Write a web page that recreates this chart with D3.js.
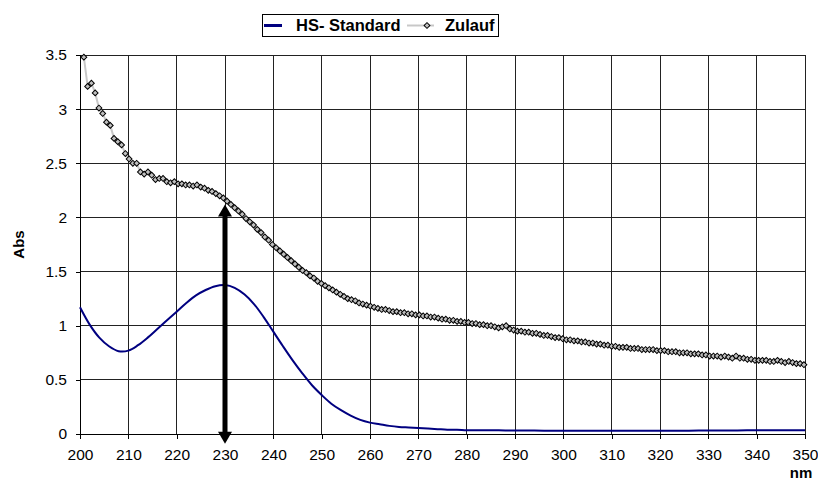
<!DOCTYPE html>
<html>
<head>
<meta charset="utf-8">
<title>HS- Standard / Zulauf</title>
<script src="https://d3js.org/d3.v7.min.js"></script>
<style>
  body { margin: 0; background: #fff; }
  text { font-family: Arial, "Liberation Sans", sans-serif; fill: #000; }
</style>
</head>
<body>
<svg id="chart" width="818" height="482"></svg>
<script>
// x ticks (nm) and y ticks (Abs)
const xTicks = [200, 210, 220, 230, 240, 250, 260, 270, 280, 290, 300, 310, 320, 330, 340, 350];
const yTicks = [0, 0.5, 1, 1.5, 2, 2.5, 3, 3.5];

// HS- Standard, one value every 2 nm from 200 to 350
const hsNm = d3.range(200, 351, 2);
const hsAbs = [
  1.17, 1.01, 0.89, 0.81, 0.765, 0.77, 0.82, 0.89, 0.97, 1.05,
  1.13, 1.21, 1.28, 1.33, 1.365, 1.375, 1.35, 1.29, 1.20, 1.08,
  0.945, 0.81, 0.68, 0.56, 0.45, 0.36, 0.28, 0.22, 0.17, 0.13,
  0.105, 0.09, 0.075, 0.065, 0.06, 0.055, 0.05, 0.045, 0.04, 0.04,
  0.035, 0.035, 0.035, 0.034, 0.033, 0.033, 0.032, 0.032, 0.031, 0.031,
  0.03, 0.03, 0.03, 0.03, 0.03, 0.03, 0.03, 0.03, 0.03, 0.03,
  0.03, 0.03, 0.031, 0.031, 0.032, 0.032, 0.033, 0.033, 0.033, 0.034,
  0.034, 0.034, 0.035, 0.035, 0.035, 0.035
];

// Zulauf, sampled every 0.78 nm starting at 200.8 nm
const zulaufStart = 200.8;
const zulaufStep = 0.78;
const zulaufAbs = [
  3.48, 3.21, 3.24, 3.15, 3.01, 2.96, 2.88, 2.85, 2.73, 2.70,
  2.67, 2.59, 2.54, 2.50, 2.50, 2.42, 2.40, 2.42, 2.39, 2.35,
  2.36, 2.36, 2.33, 2.32, 2.33, 2.31, 2.31, 2.30, 2.30, 2.29,
  2.30, 2.28, 2.27, 2.25, 2.24, 2.22, 2.20, 2.18, 2.15, 2.12,
  2.09, 2.06, 2.03, 1.99, 1.96, 1.93, 1.89, 1.86, 1.82, 1.79,
  1.75, 1.72, 1.69, 1.66, 1.63, 1.60, 1.57, 1.54, 1.51, 1.49,
  1.46, 1.44, 1.41, 1.39, 1.37, 1.35, 1.33, 1.31, 1.29, 1.27,
  1.25, 1.24, 1.23, 1.21, 1.20, 1.19, 1.18, 1.17, 1.16, 1.15,
  1.15, 1.14, 1.13, 1.13, 1.12, 1.12, 1.11, 1.11, 1.10, 1.10,
  1.09, 1.09, 1.08, 1.08, 1.07, 1.06, 1.06, 1.05, 1.05, 1.04,
  1.04, 1.03, 1.03, 1.02, 1.02, 1.01, 1.01, 1.00, 1.00, 0.99,
  0.98, 0.99, 1.00, 0.97, 0.96, 0.95, 0.95, 0.94, 0.94, 0.93,
  0.93, 0.92, 0.91, 0.91, 0.90, 0.89, 0.89, 0.88, 0.87, 0.87,
  0.86, 0.86, 0.85, 0.85, 0.84, 0.84, 0.83, 0.83, 0.82, 0.82,
  0.81, 0.81, 0.80, 0.80, 0.80, 0.79, 0.79, 0.79, 0.78, 0.78,
  0.78, 0.78, 0.77, 0.77, 0.77, 0.76, 0.76, 0.76, 0.75, 0.75,
  0.75, 0.74, 0.74, 0.74, 0.73, 0.73, 0.72, 0.72, 0.72, 0.71,
  0.72, 0.71, 0.70, 0.72, 0.70, 0.70, 0.69, 0.69, 0.68, 0.68,
  0.68, 0.68, 0.67, 0.67, 0.68, 0.67, 0.66, 0.67, 0.66, 0.65,
  0.65, 0.64
];

// double arrow at 230 nm
const arrowNm = 230;
const arrowTop = 2.12;
const arrowBottom = -0.09;

const legendLabels = ["HS- Standard", "Zulauf"];

const W = 818, H = 482;
const margin = { top: 55, right: 13, bottom: 48, left: 80 };

const svg = d3.select("#chart");

const x = d3.scaleLinear().domain([200, 350]).range([margin.left, W - margin.right]);
const y = d3.scaleLinear().domain([0, 3.5]).range([H - margin.bottom, margin.top]);

// grid
const grid = svg.append("g").attr("shape-rendering", "crispEdges");
grid.selectAll(".v").data(xTicks).join("line")
  .attr("x1", d => x(d)).attr("x2", d => x(d))
  .attr("y1", y(0)).attr("y2", y(3.5))
  .attr("stroke", "#222").attr("stroke-width", 1);
grid.selectAll(".h").data(yTicks).join("line")
  .attr("x1", x(200)).attr("x2", x(350))
  .attr("y1", d => y(d)).attr("y2", d => y(d))
  .attr("stroke", "#222").attr("stroke-width", 1);

// axes
const xAxis = svg.append("g")
  .attr("transform", `translate(0,${y(0)})`)
  .call(d3.axisBottom(x).tickValues(xTicks).tickSize(5).tickPadding(10).tickFormat(d3.format("d")));
const yAxis = svg.append("g")
  .attr("transform", `translate(${x(200)},0)`)
  .call(d3.axisLeft(y).tickValues(yTicks).tickSize(4).tickPadding(9).tickFormat(d => String(d)));

[xAxis, yAxis].forEach(a => {
  a.select(".domain").attr("stroke", "#000").attr("shape-rendering", "crispEdges");
  a.selectAll(".tick line").attr("stroke", "#000").attr("shape-rendering", "crispEdges");
  a.selectAll("text").attr("font-size", 15.5).attr("font-family", "Arial, 'Liberation Sans', sans-serif");
});

// axis titles
svg.append("text")
  .attr("transform", `translate(24,${(y(0) + y(3.5)) / 2}) rotate(-90)`)
  .attr("text-anchor", "middle")
  .attr("font-size", 15).attr("font-weight", "bold")
  .text("Abs");
svg.append("text")
  .attr("x", 801).attr("y", 478)
  .attr("text-anchor", "middle")
  .attr("font-size", 15).attr("font-weight", "bold")
  .text("nm");

// clip to plot area
svg.append("clipPath").attr("id", "plot")
  .append("rect")
  .attr("x", x(200)).attr("y", y(3.5) - 4)
  .attr("width", x(350) - x(200) + 4).attr("height", y(0) - y(3.5) + 4);

// Zulauf series
const zulauf = zulaufAbs.map((v, i) => ({ nm: zulaufStart + i * zulaufStep, v }));
const zg = svg.append("g").attr("clip-path", "url(#plot)");
zg.append("path")
  .datum(zulauf)
  .attr("fill", "none")
  .attr("stroke", "#c8c8c8")
  .attr("stroke-width", 2)
  .attr("d", d3.line().x(d => x(d.nm)).y(d => y(d.v)));

const diamond = d3.symbol().type(d3.symbolSquare).size(17);
zg.selectAll(".mk").data(zulauf).join("path")
  .attr("d", diamond)
  .attr("transform", d => `translate(${x(d.nm)},${y(d.v)}) rotate(45)`)
  .attr("fill", "#c0c0c0")
  .attr("stroke", "#000")
  .attr("stroke-width", 1);

// HS- Standard series
const hs = hsNm.map((nm, i) => ({ nm, v: hsAbs[i] }));
svg.append("path")
  .datum(hs)
  .attr("fill", "none")
  .attr("stroke", "#000080")
  .attr("stroke-width", 2)
  .attr("d", d3.line().curve(d3.curveCatmullRom).x(d => x(d.nm)).y(d => y(d.v)));

// arrow
const ax = x(arrowNm), aTop = y(arrowTop), aBot = y(arrowBottom);
const headL = 12, headW = 7;
svg.append("line")
  .attr("x1", ax).attr("x2", ax)
  .attr("y1", aTop + headL - 1).attr("y2", aBot - headL + 1)
  .attr("stroke", "#000").attr("stroke-width", 5);
svg.append("path")
  .attr("d", `M${ax},${aTop}L${ax + headW},${aTop + headL}L${ax - headW},${aTop + headL}Z`)
  .attr("fill", "#000");
svg.append("path")
  .attr("d", `M${ax},${aBot}L${ax + headW},${aBot - headL}L${ax - headW},${aBot - headL}Z`)
  .attr("fill", "#000");

// legend
const lg = svg.append("g");
lg.append("rect")
  .attr("x", 262).attr("y", 14).attr("width", 236).attr("height", 22)
  .attr("fill", "#fff").attr("stroke", "#000").attr("stroke-width", 1)
  .attr("shape-rendering", "crispEdges");
lg.append("line")
  .attr("x1", 264).attr("x2", 282).attr("y1", 25.5).attr("y2", 25.5)
  .attr("stroke", "#000080").attr("stroke-width", 3);
lg.append("text")
  .attr("x", 296).attr("y", 31)
  .attr("font-size", 16.5).attr("font-weight", "bold")
  .text(legendLabels[0]);
lg.append("line")
  .attr("x1", 407).attr("x2", 434).attr("y1", 25.5).attr("y2", 25.5)
  .attr("stroke", "#c8c8c8").attr("stroke-width", 2);
lg.append("path")
  .attr("d", diamond)
  .attr("transform", "translate(427,25.5) rotate(45)")
  .attr("fill", "#c0c0c0").attr("stroke", "#000").attr("stroke-width", 1);
lg.append("text")
  .attr("x", 445).attr("y", 31)
  .attr("font-size", 16.5).attr("font-weight", "bold")
  .text(legendLabels[1]);
</script>
</body>
</html>
